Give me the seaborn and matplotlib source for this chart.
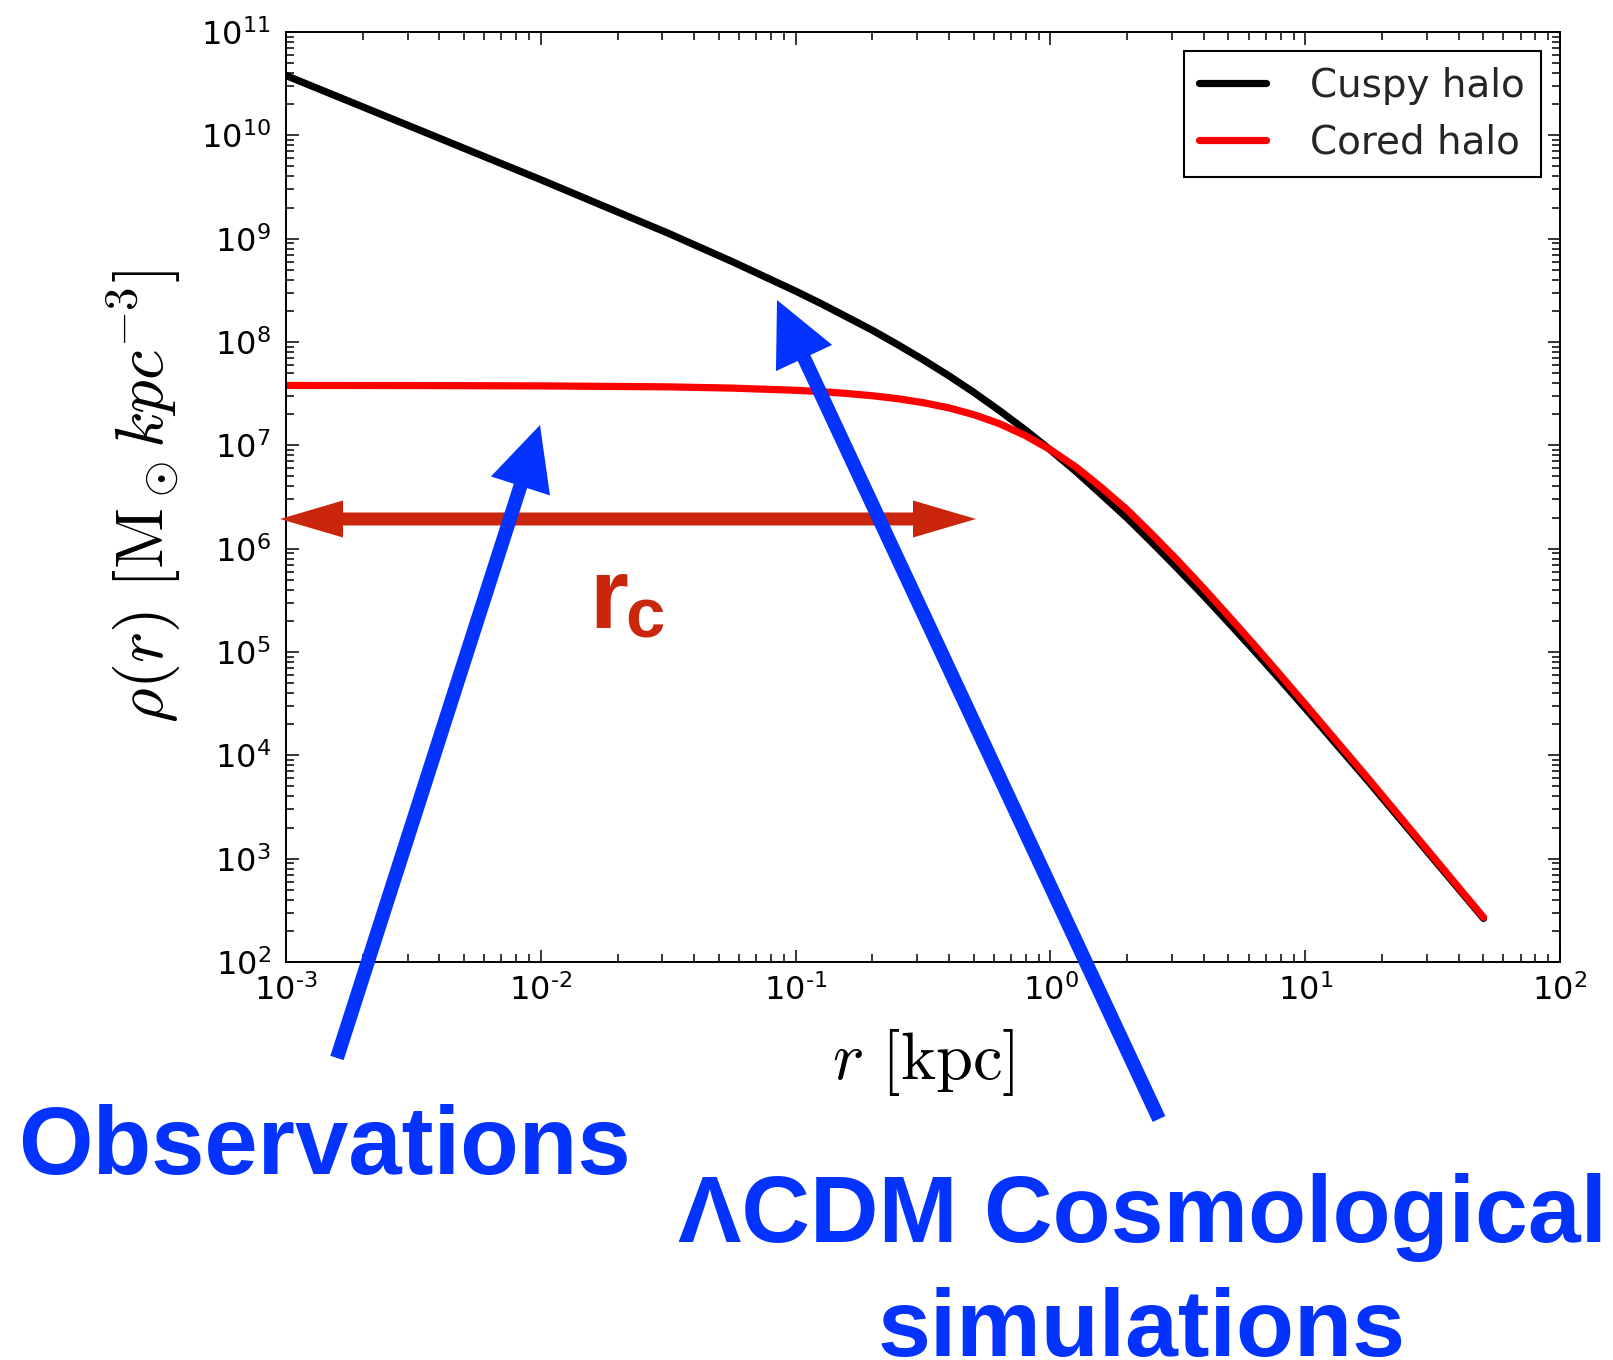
import matplotlib
matplotlib.use("Agg")
import matplotlib.pyplot as plt
import pandas as pd
import seaborn as sns
from matplotlib.lines import Line2D
from matplotlib.patches import FancyArrow
from matplotlib.transforms import IdentityTransform
from matplotlib.ticker import FixedLocator, FixedFormatter, LogLocator, NullFormatter

# ---- density profiles (r in kpc, rho in M_sun / kpc^3) ----
radius_kpc = [0.001, 0.00316, 0.01, 0.0316, 0.0562, 0.1, 0.126, 0.158, 0.2,
              0.251, 0.316, 0.398, 0.501, 0.631, 0.794, 1.0, 1.26, 1.58, 2.0,
              2.51, 3.16, 3.98, 5.01, 6.31, 7.94, 10.0, 17.8, 31.6, 50.1]
rho_cuspy = [3.79e10, 1.19e10, 3.72e9, 1.13e9, 6.02e8, 3.11e8, 2.35e8, 1.76e8,
             1.30e8, 9.46e7, 6.76e7, 4.74e7, 3.25e7, 2.17e7, 1.42e7, 9.02e6,
             5.58e6, 3.37e6, 1.98e6, 1.14e6, 6.41e5, 3.54e5, 1.92e5, 1.03e5,
             5.46e4, 2.86e4, 5.50e3, 1.02e3, 264.0]
rho_cored = [3.80e7, 3.79e7, 3.76e7, 3.68e7, 3.58e7, 3.41e7, 3.31e7, 3.18e7,
             3.02e7, 2.83e7, 2.59e7, 2.31e7, 1.98e7, 1.62e7, 1.25e7, 9.07e6,
             6.16e6, 3.93e6, 2.38e6, 1.37e6, 7.67e5, 4.17e5, 2.22e5, 1.17e5,
             6.08e4, 3.13e4, 5.83e3, 1.06e3, 270.0]
halo_names = ["Cuspy halo", "Cored halo"]
halo_colors = {"Cuspy halo": "#000000", "Cored halo": "#FF0000"}

x_ticks = [1e-3, 1e-2, 1e-1, 1e0, 1e1, 1e2]
x_tick_labels = ["$10^{\u20103}$", "$10^{\u20102}$", "$10^{\u20101}$",
                 "$10^{0}$", "$10^{1}$", "$10^{2}$"]
y_ticks = [1e2, 1e3, 1e4, 1e5, 1e6, 1e7, 1e8, 1e9, 1e10, 1e11]
y_tick_labels = ["$10^{2}$", "$10^{3}$", "$10^{4}$", "$10^{5}$", "$10^{6}$",
                 "$10^{7}$", "$10^{8}$", "$10^{9}$", "$10^{10}$", "$10^{11}$"]

BLUE = "#0433FF"
DARK_RED = "#C9260B"

sns.set_theme(style="ticks")
plt.rcParams.update({
    "font.family": ["DejaVu Sans"],
    "mathtext.fontset": "dejavusans",
    "axes.linewidth": 1.4,
    "axes.edgecolor": "black",
})

W, H = 1613, 1360
fig = plt.figure(figsize=(W / 100, H / 100), dpi=100)
fig.patch.set_facecolor("white")
ax = fig.add_axes([286 / W, 1 - 962 / H, 1274 / W, 930 / H])

df = pd.DataFrame({
    "r": radius_kpc * 2,
    "rho": rho_cuspy + rho_cored,
    "halo": [halo_names[0]] * len(radius_kpc) + [halo_names[1]] * len(radius_kpc),
})
ax.set_xscale("log")
ax.set_yscale("log")
sns.lineplot(data=df, x="r", y="rho", hue="halo", hue_order=halo_names,
             palette=halo_colors, estimator=None, sort=False, lw=5.2,
             legend=False, ax=ax)

ax.set_xlim(1e-3, 1e2)
ax.set_ylim(1e2, 1e11)
ax.xaxis.set_major_locator(FixedLocator(x_ticks))
ax.xaxis.set_major_formatter(FixedFormatter(x_tick_labels))
ax.yaxis.set_major_locator(FixedLocator(y_ticks))
ax.yaxis.set_major_formatter(FixedFormatter(y_tick_labels))
ax.xaxis.set_minor_locator(LogLocator(base=10, subs=range(2, 10), numticks=50))
ax.yaxis.set_minor_locator(LogLocator(base=10, subs=range(2, 10), numticks=50))
ax.xaxis.set_minor_formatter(NullFormatter())
ax.yaxis.set_minor_formatter(NullFormatter())
ax.tick_params(which="both", direction="in", top=True, right=True,
               colors="black", width=1.1)
ax.tick_params(which="major", length=9, labelsize=23)
ax.tick_params(axis="x", which="major", pad=9)
ax.tick_params(axis="y", which="major", pad=11)
ax.tick_params(which="minor", length=5.5)
for s in ax.spines.values():
    s.set_visible(True)
    s.set_linewidth(1.4)

ax.set_xlabel(r"$r\ [\mathrm{kpc}]$", fontsize=48, labelpad=14,
              math_fontfamily="cm", color="black")
ax.set_ylabel(r"$\rho(r)\ [\mathrm{M}_\odot kpc^{-3}]$", fontsize=48,
              labelpad=13, math_fontfamily="cm", color="black")

handles = [Line2D([], [], color=halo_colors[n], lw=5.2) for n in halo_names]
leg = ax.legend(handles, halo_names, loc="upper right", fontsize=28,
                frameon=True, fancybox=False, edgecolor="black", framealpha=1,
                borderaxespad=0.5, handlelength=1.7, handletextpad=1.15,
                borderpad=0.4, labelspacing=0.48)
leg.get_frame().set_linewidth(1.5)


def pixel_arrow(x0, y0, x1, y1, color, width, head_w, head_l):
    """Arrow in figure pixels, measured from the top-left corner."""
    arr = FancyArrow(x0, H - y0, x1 - x0, -(y1 - y0), width=width,
                     head_width=head_w, head_length=head_l,
                     length_includes_head=True, color=color, lw=0,
                     transform=IdentityTransform())
    fig.add_artist(arr)


# core-radius double arrow
pixel_arrow(627, 519, 280, 519, DARK_RED, 13, 37, 63)
pixel_arrow(627, 519, 976, 519, DARK_RED, 13, 37, 63)
fig.text(589 / W, 1 - 628 / H, "r", fontsize=72, fontweight="bold",
         family="Liberation Sans", color=DARK_RED, ha="left", va="baseline")
fig.text(625 / W, 1 - 637 / H, "c", fontsize=51, fontweight="bold",
         family="Liberation Sans", color=DARK_RED, ha="left", va="baseline")

# pointers from the captions to the curves
pixel_arrow(337, 1058, 540, 425, BLUE, 14, 62, 64)
pixel_arrow(1159, 1119, 777, 300, BLUE, 14, 62, 64)

fig.text(18 / W, 1 - 1174 / H, "Observations", fontsize=69, fontweight="bold",
         family="Liberation Sans", color=BLUE, ha="left", va="baseline")
fig.text(1142 / W, 1 - 1242 / H, "\u039bCDM Cosmological", fontsize=68.4,
         fontweight="bold", family="Liberation Sans", color=BLUE,
         ha="center", va="baseline")
fig.text(1142 / W, 1 - 1356 / H, "simulations", fontsize=68.4,
         fontweight="bold", family="Liberation Sans", color=BLUE,
         ha="center", va="baseline")

fig.savefig("out.png", dpi=100, facecolor="white")
